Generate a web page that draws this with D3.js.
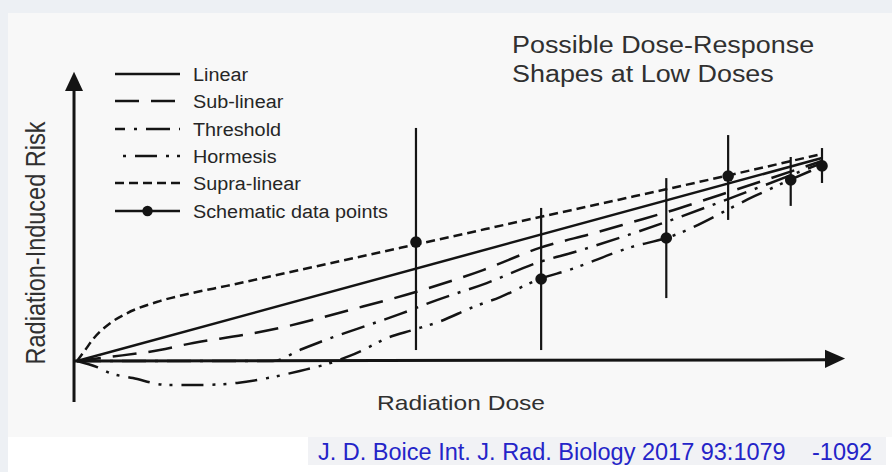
<!DOCTYPE html>
<html><head><meta charset="utf-8">
<script src="https://cdn.jsdelivr.net/npm/d3@7"></script>
<style>body{margin:0;background:#fff}svg{display:block}</style>
</head><body>
<svg id="chart" width="892" height="472"></svg>
<script>
// ---------------- data ----------------
const seriesNames = ["Linear", "Sub-linear", "Threshold", "Hormesis", "Supra-linear"];
const legendLabels = ["Linear", "Sub-linear", "Threshold", "Hormesis", "Supra-linear", "Schematic data points"];

const linearDose = [0, 100];
const linearRisk = [0, 100];

const subDose = [0, 4.4, 11.1, 15.6, 22.3, 27.7, 36.6, 46.4, 54.5, 62.1, 69.5, 74.6, 79.2, 86.3, 100];
const subRisk = [0, 2.0, 5.4, 8.9, 12.8, 16.7, 25.1, 35.0, 44.8, 55.7, 63.1, 68.5, 73.4, 81.8, 98.5];

const thresholdDose = [0, 26.3, 29.9, 33.3, 38.0, 43.4, 48.3, 55.0, 62.1, 66.8, 74.0, 78.7, 87.2, 100];
const thresholdRisk = [0, 0, 5.4, 10.3, 16.3, 23.2, 30.0, 38.4, 48.8, 53.7, 62.1, 68.0, 79.5, 97.5];

const hormesisDose = [0, 2.7, 4.4, 7.5, 12.1, 16.5, 21.5, 26.3, 29.9, 34.0, 36.6, 38.4, 41.6, 45.1, 48.5, 53.2, 56.8, 62.1, 66.0, 74.5, 79.1, 91.0, 96.0, 100];
const hormesisRisk = [0, -3.0, -5.9, -8.4, -11.8, -11.8, -10.8, -7.9, -4.9, -1.0, 2.5, 5.4, 11.3, 15.3, 19.2, 26.6, 31.5, 40.4, 44.8, 56.2, 60.6, 81.3, 89.7, 96.0];

const supraDose = [0, 1.1, 2.2, 4.4, 6.7, 11.1, 15.6, 20.1, 24.6, 32.2, 41.1, 46.0, 50.1, 59.5, 62.6, 72.9, 79.2, 86.3, 100];
const supraRisk = [0, 5.4, 11.0, 18.5, 23.5, 29.5, 33.6, 37.0, 40.6, 46.7, 53.9, 57.8, 61.1, 68.8, 71.3, 79.6, 84.7, 90.5, 102.0];

const pointDose = [45.5, 62.3, 79.1, 87.4, 95.8, 100];
const pointRisk = [58.6, 40.4, 60.6, 91.1, 89.2, 96.1];
const pointLow  = [5.4, 5.4, 31.0, 69.5, 76.4, 87.7];
const pointHigh = [114.8, 75.4, 90.1, 111.3, 100.5, 104.9];

const titleLines = ["Possible Dose-Response", "Shapes at Low Doses"];
const xLabel = "Radiation Dose";
const yLabel = "Radiation-Induced Risk";
const citationMain = "J. D. Boice Int. J. Rad. Biology 2017 93:1079";
const citationEnd = "-1092";

// ---------------- styles ----------------
const ink = "#141414";
const dashes = {
  "Linear": null,
  "Sub-linear": "24,12",
  "Threshold": "24,9,3,9",
  "Hormesis": "22,9,3,8,3,9",
  "Supra-linear": "9,5"
};

const svg = d3.select("#chart");
const W = 892, H = 472;

// backgrounds
svg.append("rect").attr("width", W).attr("height", H).attr("fill", "#edf0f4");
svg.append("rect").attr("x", 8).attr("y", 13).attr("width", W - 8).attr("height", 424).attr("fill", "#f8f8f8");
svg.append("rect").attr("x", 8).attr("y", 437).attr("width", W - 8).attr("height", H - 437).attr("fill", "#ffffff");
svg.append("rect").attr("x", 308).attr("y", 437).attr("width", 578).attr("height", 28).attr("fill", "#f1f2f5");

function stretch(sel, f) {
  sel.each(function () {
    const L = this.getComputedTextLength();
    this.setAttribute("textLength", L * f);
    this.setAttribute("lengthAdjust", "spacingAndGlyphs");
  });
}

// ---------------- scales ----------------
const x = d3.scaleLinear().domain([0, 100]).range([77, 822]);
const y = d3.scaleLinear().domain([0, 100]).range([361, 158]);

// axes (arrows)
const axisG = svg.append("g").attr("stroke", ink).attr("fill", ink);
const yAxisX = x(-0.4);
axisG.append("line").attr("x1", yAxisX).attr("x2", yAxisX).attr("y1", y(-20.2)).attr("y2", y(134))
  .attr("stroke-width", 3);
axisG.append("path").attr("stroke", "none")
  .attr("d", `M${yAxisX},${y(142.5)} L${yAxisX - 9},${y(133)} L${yAxisX + 9},${y(133)} Z`);
axisG.append("line").attr("x1", yAxisX).attr("x2", x(100.8)).attr("y1", y(0)).attr("y2", y(0.6))
  .attr("stroke-width", 3);
axisG.append("path").attr("stroke", "none")
  .attr("d", `M${x(103.1)},${y(1.2)} L${x(100.4)},${y(5.6)} L${x(100.4)},${y(-3.4)} Z`);

// ---------------- curves ----------------
const line = d3.line().x(d => x(d[0])).y(d => y(d[1])).curve(d3.curveMonotoneX);
const seriesData = {
  "Linear": d3.zip(linearDose, linearRisk),
  "Sub-linear": d3.zip(subDose, subRisk),
  "Threshold": d3.zip(thresholdDose, thresholdRisk),
  "Hormesis": d3.zip(hormesisDose, hormesisRisk),
  "Supra-linear": d3.zip(supraDose, supraRisk)
};
const curves = svg.append("g").attr("fill", "none").attr("stroke", ink).attr("stroke-width", 2.5);
seriesNames.forEach(name => {
  curves.append("path").datum(seriesData[name]).attr("d", line)
    .attr("stroke-dasharray", dashes[name]);
});

// data points with error bars
const pts = svg.append("g");
pointDose.forEach((d, i) => {
  pts.append("line").attr("x1", x(d)).attr("x2", x(d)).attr("y1", y(pointLow[i])).attr("y2", y(pointHigh[i]))
    .attr("stroke", ink).attr("stroke-width", 2.2);
  pts.append("circle").attr("cx", x(d)).attr("cy", y(pointRisk[i])).attr("r", 5.8).attr("fill", ink);
});

// ---------------- legend ----------------
const legend = svg.append("g");
const legX0 = 115, legX1 = 180, legTextX = 193;
const legRowY = [74, 101, 129, 156, 183, 211];
legendLabels.forEach((lab, i) => {
  const yy = legRowY[i];
  if (i < 5) {
    legend.append("line").attr("x1", legX0).attr("x2", legX1).attr("y1", yy).attr("y2", yy)
      .attr("stroke", ink).attr("stroke-width", 2.6).attr("stroke-dasharray", dashes[lab])
      .attr("stroke-dashoffset", lab === "Threshold" ? 14 : (lab === "Hormesis" ? 34 : 0));
  } else {
    legend.append("line").attr("x1", legX0).attr("x2", legX1).attr("y1", yy).attr("y2", yy)
      .attr("stroke", ink).attr("stroke-width", 2.6);
    legend.append("circle").attr("cx", (legX0 + legX1) / 2).attr("cy", yy).attr("r", 5.2).attr("fill", ink);
  }
  legend.append("text").attr("x", legTextX).attr("y", yy + 6.5).text(lab)
    .attr("font-family", "'Liberation Sans', Arial, sans-serif").attr("font-size", 18)
    .attr("fill", "#262626").call(stretch, 1.1);
});

// ---------------- titles / labels ----------------
const font = "'Liberation Sans', Arial, sans-serif";
titleLines.forEach((t, i) => {
  svg.append("text").attr("x", 512).attr("y", 53 + i * 29).text(t)
    .attr("font-family", font).attr("font-size", 23).attr("fill", "#303030").call(stretch, 1.17);
});
svg.append("text").attr("x", 377).attr("y", 410).text(xLabel)
  .attr("font-family", font).attr("font-size", 21).attr("fill", "#303030").call(stretch, 1.17);
svg.append("text").attr("transform", "translate(45,243) scale(1.17,1) rotate(-90)")
  .attr("text-anchor", "middle").text(yLabel)
  .attr("font-family", font).attr("font-size", 23.5).attr("fill", "#303030");

svg.append("text").attr("x", 318).attr("y", 460).text(citationMain)
  .attr("font-family", font).attr("font-size", 23.5).attr("fill", "#2424c8");
svg.append("text").attr("x", 812).attr("y", 460).text(citationEnd)
  .attr("font-family", font).attr("font-size", 23.5).attr("fill", "#2424c8");
</script>
</body></html>
